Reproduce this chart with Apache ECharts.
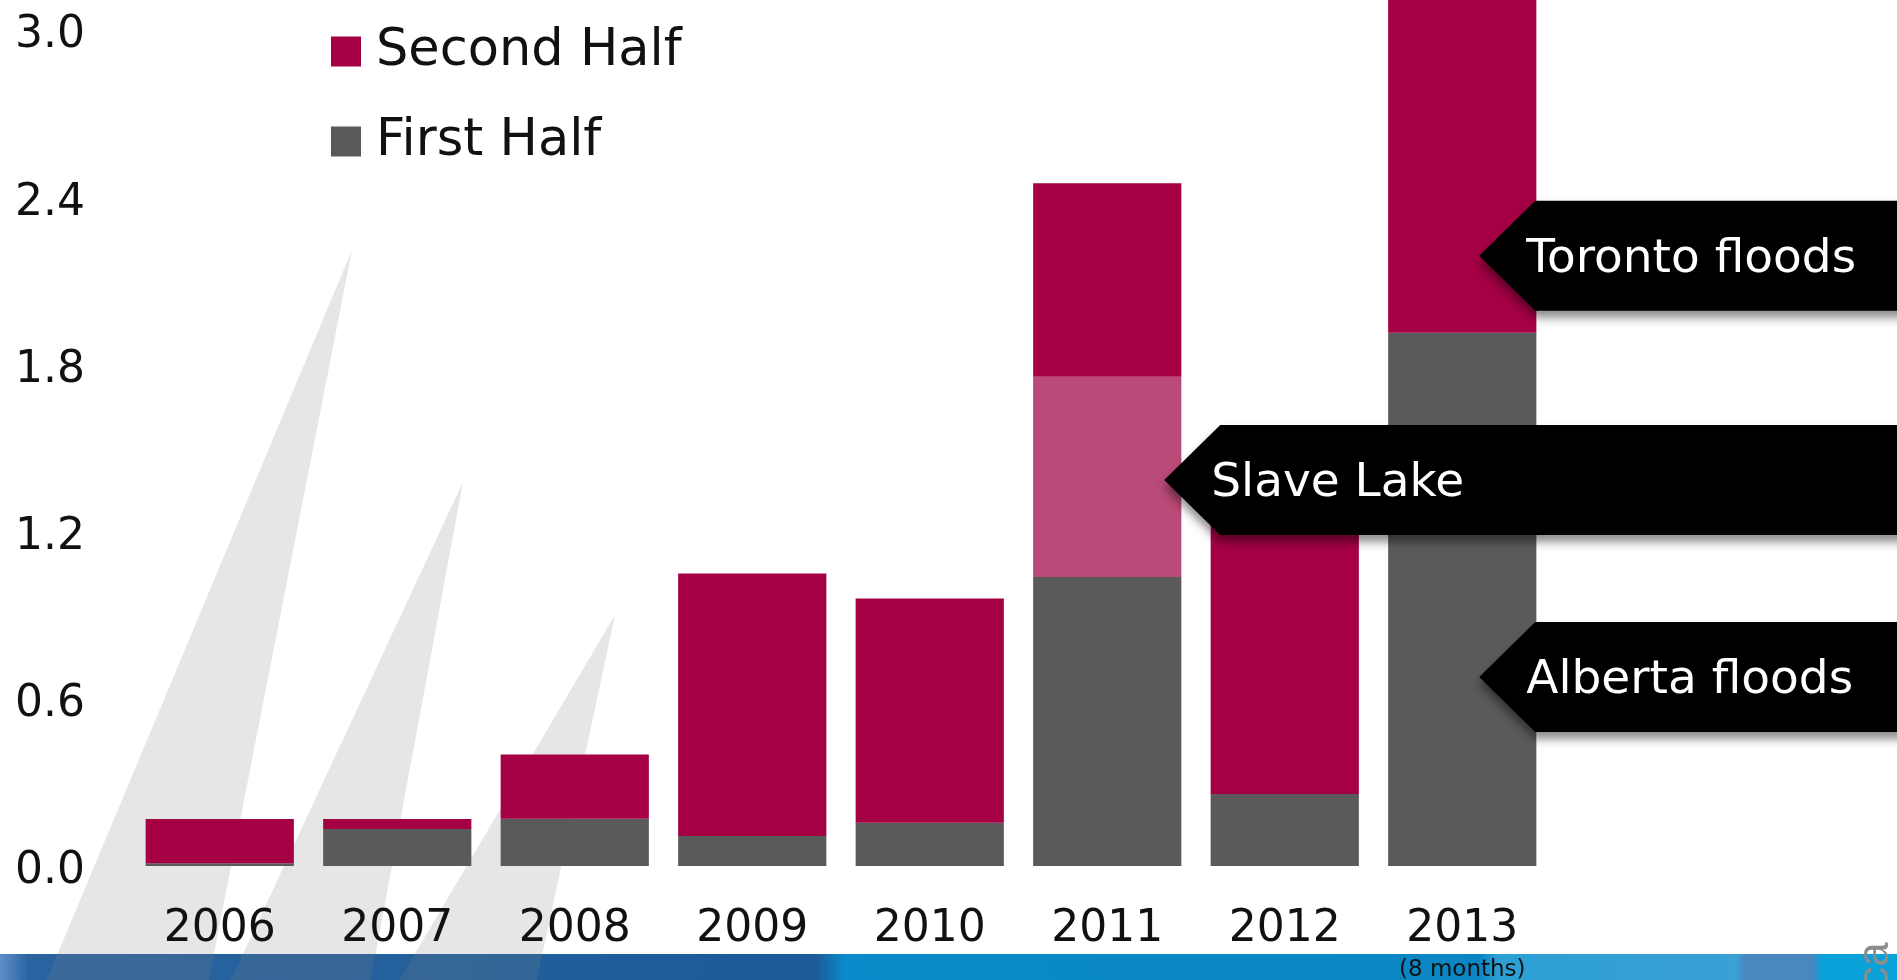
<!DOCTYPE html>
<html>
<head>
<meta charset="utf-8">
<script src="https://cdn.jsdelivr.net/npm/echarts@6/dist/echarts.min.js"></script>
<style>
html, body { margin: 0; padding: 0; background: #fff; }
#chart { width: 1897px; height: 980px; }
</style>
</head>
<body>
<div id="chart"></div>
<script>
// insured catastrophe losses, billions
var years = ['2006', '2007', '2008', '2009', '2010', '2011', '2012', '2013'];
var firstHalf = [0.01, 0.133, 0.17, 0.108, 0.155, 1.037, 0.258, 1.914];
var slaveLake = [0, 0, 0, 0, 0, 0.719, 0, 0];
var secondHalf = [0.159, 0.036, 0.23, 0.942, 0.805, 0.694, 1.09, 1.29];
var yMin = 0, yMax = 3.0, yStep = 0.6;
var yearNotes = { '2013': '(8 months)' };

var calloutNames = ['Toronto floods', 'Slave Lake', 'Alberta floods'];
var calloutYears = ['2013', '2011', '2013'];
var calloutValues = [2.19, 1.385, 0.678];

var chart = echarts.init(document.getElementById('chart'));
var font = 'DejaVu Sans';

// decorative background: grey spikes + blue band
var bgGraphic = [
    {
        type: 'rect', id: 'band', z: -20, silent: true,
        shape: { x: 0, y: 954, width: 1897, height: 30 },
        style: {
            fill: new echarts.graphic.LinearGradient(0, 0, 1, 0, [
                { offset: 0, color: '#5f8fc8' },
                { offset: 0.015, color: '#2a64a0' },
                { offset: 0.43, color: '#1a5b98' },
                { offset: 0.445, color: '#0a8ac8' },
                { offset: 0.78, color: '#0a86c4' },
                { offset: 0.79, color: '#2ba0d5' },
                { offset: 0.915, color: '#3aa0d6' },
                { offset: 0.92, color: '#4a86c0' },
                { offset: 0.955, color: '#4a86c0' },
                { offset: 0.96, color: '#0aa0d8' },
                { offset: 1, color: '#0aa0d8' }
            ])
        }
    },
    { type: 'polygon', id: 's1', z: -10, silent: true, shape: { points: [[352, 250], [45, 984], [208, 984]] }, style: { fill: 'rgba(128,128,128,0.2)' } },
    { type: 'polygon', id: 's2', z: -10, silent: true, shape: { points: [[463, 482], [229, 984], [370, 984]] }, style: { fill: 'rgba(128,128,128,0.2)' } },
    { type: 'polygon', id: 's3', z: -10, silent: true, shape: { points: [[615, 615], [397, 984], [536, 984]] }, style: { fill: 'rgba(128,128,128,0.2)' } },
    {
        type: 'text', id: 'ca', z: -5, silent: true, x: 1876, y: 1001, rotation: Math.PI / 2,
        style: { text: '.ca', fill: '#8c8c8c', font: '44px "Liberation Sans"', align: 'left', verticalAlign: 'middle' }
    }
];

var option = {
    backgroundColor: '#fff',
    animation: false,
    grid: { left: 131, right: 346, top: 30, bottom: 114, outerBoundsMode: 'none' },
    legend: {
        orient: 'vertical',
        left: 326,
        top: 21,
        itemWidth: 30,
        itemHeight: 30,
        itemGap: 39,
        icon: 'rect',
        data: ['Second Half', 'First Half'],
        textStyle: { fontFamily: font, fontSize: 51, lineHeight: 51, color: '#111', padding: [0, 0, 0, 10] }
    },
    xAxis: {
        type: 'category',
        data: years,
        axisLine: { show: false },
        axisTick: { show: false },
        axisLabel: {
            interval: 0,
            margin: 37,
            color: '#111',
            formatter: function (v) {
                return yearNotes[v] ? '{a|' + v + '}\n{b|' + yearNotes[v] + '}' : '{a|' + v + '}';
            },
            rich: {
                a: { fontFamily: font, fontSize: 44, lineHeight: 54, color: '#111' },
                b: { fontFamily: font, fontSize: 23, lineHeight: 26, color: '#111' }
            }
        }
    },
    yAxis: {
        type: 'value',
        min: yMin,
        max: yMax,
        interval: yStep,
        axisLine: { show: false },
        axisTick: { show: false },
        splitLine: { show: false },
        axisLabel: {
            margin: 46,
            fontFamily: font,
            fontSize: 44,
            color: '#111',
            verticalAlign: 'top',
            lineHeight: 12,
            formatter: function (v) { return v.toFixed(1); }
        }
    },
    series: [
        {
            name: 'First Half', type: 'bar', stack: 'loss', clip: false,
            barCategoryGap: '16.5%',
            itemStyle: { color: '#5a5a5a' },
            data: firstHalf
        },
        {
            name: 'Slave Lake', type: 'bar', stack: 'loss', clip: false,
            itemStyle: { color: '#ba4a77' },
            data: slaveLake
        },
        {
            name: 'Second Half', type: 'bar', stack: 'loss', clip: false,
            itemStyle: { color: '#a50044' },
            data: secondHalf
        }
    ],
    graphic: bgGraphic
};

chart.setOption(option);

// callout arrows, anchored to the bars through the chart's own scales
var calloutReach = [73, 113, 73];
var boxHalf = 55, notch = 56;
var callouts = [];
calloutNames.forEach(function (name, i) {
    var p = chart.convertToPixel({ seriesIndex: 0 }, [calloutYears[i], calloutValues[i]]);
    var left = p[0] + calloutReach[i];
    var cy = p[1];
    callouts.push({
        type: 'polygon', id: 'cb' + i, z: 100, silent: true,
        shape: { points: [[left - notch, cy], [left, cy - boxHalf], [1910, cy - boxHalf], [1910, cy + boxHalf], [left, cy + boxHalf]] },
        style: { fill: '#000', shadowBlur: 10, shadowOffsetY: 7, shadowColor: 'rgba(0,0,0,0.45)' }
    });
    callouts.push({
        type: 'text', id: 'ct' + i, z: 101, silent: true, x: left - 9, y: cy + 4,
        style: { text: name, fill: '#fff', font: '47px "DejaVu Sans"', align: 'left', verticalAlign: 'middle' }
    });
});
chart.setOption({ graphic: bgGraphic.concat(callouts) });
</script>
</body>
</html>
